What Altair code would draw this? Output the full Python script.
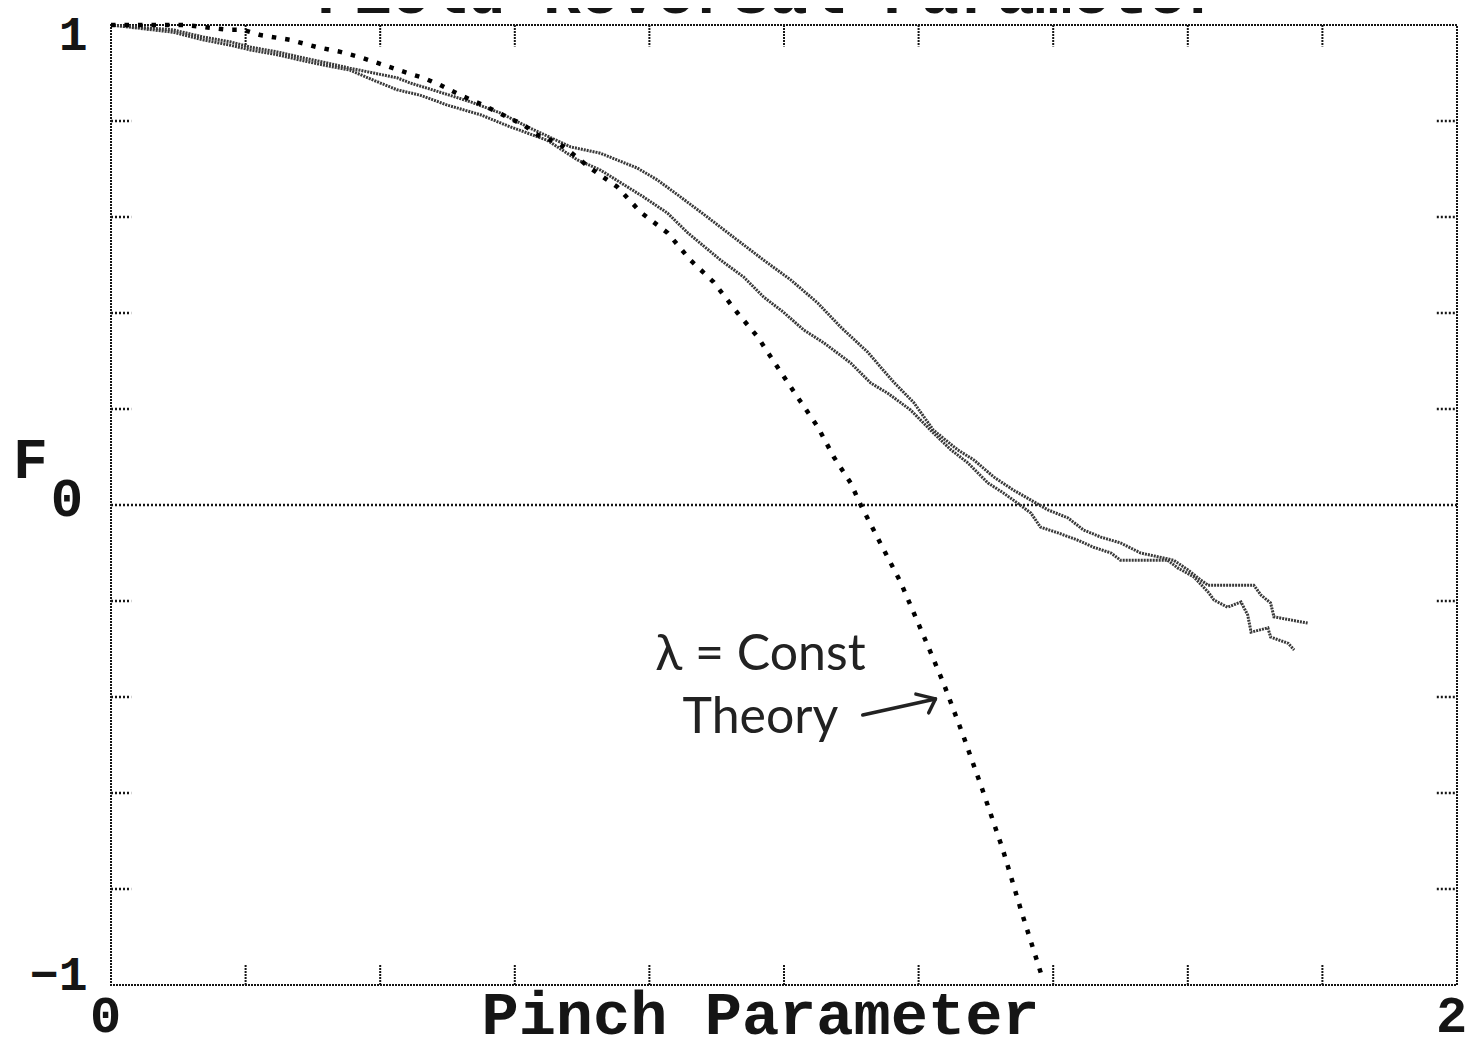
import altair as alt
import pandas as pd

# ---- data ----
theory_x = [0, 0.110, 0.173, 0.196, 0.222, 0.266, 0.306, 0.341, 0.370, 0.396,
            0.419, 0.445, 0.464, 0.489, 0.519, 0.553, 0.589, 0.613, 0.638, 0.663,
            0.683, 0.712, 0.752, 0.787, 0.827, 0.861, 0.895, 0.931, 0.961, 0.990,
            1.020, 1.050, 1.074, 1.099, 1.114, 1.143, 1.173, 1.207, 1.237, 1.267,
            1.295, 1.325, 1.353, 1.383]
theory_y = [1.0, 1.0, 0.990, 0.990, 0.979, 0.969, 0.954, 0.944, 0.933, 0.921,
            0.910, 0.898, 0.890, 0.875, 0.854, 0.833, 0.808, 0.792, 0.767, 0.756,
            0.735, 0.702, 0.663, 0.610, 0.567, 0.510, 0.465, 0.400, 0.350, 0.288,
            0.225, 0.163, 0.100, 0.046, 0.0, -0.079, -0.160, -0.271, -0.371, -0.483,
            -0.594, -0.717, -0.848, -0.981]

upper_x = [0, 0.092, 0.137, 0.177, 0.207, 0.247, 0.281, 0.321, 0.355, 0.390,
           0.425, 0.445, 0.489, 0.534, 0.578, 0.623, 0.683, 0.727, 0.782, 0.812,
           0.846, 0.886, 0.925, 0.970, 1.010, 1.050, 1.084, 1.124, 1.163, 1.193,
           1.222, 1.258, 1.282, 1.312, 1.341, 1.367, 1.392, 1.422, 1.445, 1.471,
           1.500, 1.530, 1.579, 1.600, 1.619, 1.630, 1.698, 1.709, 1.723, 1.728,
           1.778]
upper_y = [1.0, 0.990, 0.975, 0.965, 0.954, 0.944, 0.933, 0.921, 0.910, 0.900,
           0.890, 0.879, 0.860, 0.840, 0.817, 0.785, 0.746, 0.733, 0.702, 0.677,
           0.642, 0.600, 0.558, 0.510, 0.469, 0.421, 0.371, 0.319, 0.256, 0.213,
           0.156, 0.115, 0.094, 0.058, 0.031, 0.010, -0.010, -0.027, -0.052, -0.067,
           -0.079, -0.100, -0.115, -0.135, -0.156, -0.167, -0.167, -0.188, -0.204, -0.233,
           -0.246]

lower_x = [0, 0.092, 0.137, 0.177, 0.207, 0.247, 0.281, 0.321, 0.355, 0.390,
           0.425, 0.459, 0.500, 0.549, 0.593, 0.648, 0.693, 0.727, 0.767, 0.791,
           0.827, 0.857, 0.906, 0.940, 0.970, 0.999, 1.029, 1.059, 1.099, 1.129,
           1.154, 1.188, 1.222, 1.248, 1.273, 1.303, 1.326, 1.347, 1.367, 1.381,
           1.407, 1.436, 1.460, 1.486, 1.500, 1.570, 1.585, 1.609, 1.630, 1.639,
           1.659, 1.679, 1.689, 1.694, 1.719, 1.723, 1.749, 1.758]
lower_y = [1.0, 0.985, 0.969, 0.958, 0.948, 0.938, 0.927, 0.915, 0.906, 0.885,
           0.865, 0.854, 0.833, 0.813, 0.788, 0.760, 0.719, 0.698, 0.663, 0.642,
           0.608, 0.567, 0.510, 0.475, 0.433, 0.402, 0.365, 0.338, 0.296, 0.254,
           0.233, 0.198, 0.150, 0.115, 0.088, 0.046, 0.025, 0.004, -0.017, -0.046,
           -0.058, -0.073, -0.088, -0.100, -0.115, -0.115, -0.131, -0.150, -0.181, -0.198,
           -0.213, -0.202, -0.229, -0.265, -0.256, -0.275, -0.288, -0.302]

x_tick_values = [0.2, 0.4, 0.6, 0.8, 1.0, 1.2, 1.4, 1.6, 1.8]
y_tick_values = [-0.8, -0.6, -0.4, -0.2, 0.2, 0.4, 0.6, 0.8]
x_label_values = [0, 2]
y_label_values = [-1, 1]

# the "0" label of the F axis, set just below-right of the "F"
zero_label = ["0"]
zero_label_x = [-0.0654]
zero_label_y = [0.0104]

chart_title = ["Field Reversal Parameter"]
chart_title_x = [0.979]
chart_title_y = [1.024]                            # above the frame, cut by the page top

note_text = ["λ = Const", "Theory"]
note_x = [0.965, 0.965]
note_y = [-0.3125, -0.444]

arrow_x = [1.117, 1.196, 1.215]
arrow_y = [-0.4375, -0.394, -0.433]
arrow_x2 = [1.225, 1.225, 1.225]
arrow_y2 = [-0.404, -0.404, -0.404]

# ---- styling ----
MONO = "Liberation Mono"
INK = "#151515"

xs = alt.Scale(domain=[0, 2], nice=False, zero=False)
ys = alt.Scale(domain=[-1, 1], nice=False, zero=False)

xaxis = alt.Axis(values=x_label_values, format="d", title="Pinch Parameter",
                 labelFont=MONO, labelFontSize=52, labelFontWeight="bold",
                 labelColor=INK, labelPadding=46, labelOffset=-6, labelFlush=False,
                 labelBaseline="alphabetic", labelOverlap=False,
                 ticks=False, domain=False, grid=False,
                 titleFont=MONO, titleFontSize=62, titleFontWeight="bold",
                 titleColor=INK, titleX=649, titleY=48, titleAlign="center",
                 titleBaseline="alphabetic")
yaxis = alt.Axis(values=y_label_values, format="d", title="F",
                 labelFont=MONO, labelFontSize=48, labelFontWeight="bold",
                 labelColor=INK, labelPadding=24, labelFlush=True, labelFlushOffset=14,
                 labelOverlap=False, labelBound=False,
                 ticks=False, domain=False, grid=False,
                 titleFont=MONO, titleFontSize=58, titleFontWeight="bold",
                 titleColor=INK, titleAngle=0, titleX=-81, titleY=435,
                 titleAlign="center", titleBaseline="middle")


def X(f):
    return alt.X(f, type="quantitative", scale=xs, axis=xaxis)


def Y(f):
    return alt.Y(f, type="quantitative", scale=ys, axis=yaxis)


zero_df = pd.DataFrame({"x": [0], "x2": [2], "y": [0]})
zero_line = alt.Chart(zero_df).mark_rule(
    color=INK, strokeWidth=2.4, strokeDash=[2, 2]
).encode(x=X("x"), x2="x2", y=Y("y"))

bt_df = pd.DataFrame({"x": x_tick_values, "y": [-1.0] * 9, "y2": [-0.958] * 9})
bottom_ticks = alt.Chart(bt_df).mark_rule(
    color=INK, strokeWidth=2, strokeDash=[2, 1]
).encode(x=X("x"), y=Y("y"), y2="y2")

tt_df = pd.DataFrame({"x": x_tick_values, "y": [1.0] * 9, "y2": [0.955] * 9})
top_ticks = alt.Chart(tt_df).mark_rule(
    color=INK, strokeWidth=2, strokeDash=[2, 1]
).encode(x=X("x"), y=Y("y"), y2="y2")

lt_df = pd.DataFrame({"y": y_tick_values, "x": [0.0] * 8, "x2": [0.03] * 8})
left_ticks = alt.Chart(lt_df).mark_rule(
    color=INK, strokeWidth=2.5, strokeDash=[2, 2]
).encode(x=X("x"), x2="x2", y=Y("y"))

rt_df = pd.DataFrame({"y": y_tick_values, "x": [1.97] * 8, "x2": [2.0] * 8})
right_ticks = alt.Chart(rt_df).mark_rule(
    color=INK, strokeWidth=2.5, strokeDash=[2, 2]
).encode(x=X("x"), x2="x2", y=Y("y"))

th_df = pd.DataFrame({"x": theory_x, "y": theory_y, "i": range(len(theory_x))})
theory = alt.Chart(th_df).mark_line(
    color="#000", strokeWidth=4.5, strokeDash=[4.5, 9], strokeCap="butt"
).encode(x=X("x"), y=Y("y"), order="i:Q")

data_df = pd.concat([
    pd.DataFrame({"x": upper_x, "y": upper_y, "s": "upper", "i": range(len(upper_x))}),
    pd.DataFrame({"x": lower_x, "y": lower_y, "s": "lower", "i": range(len(lower_x))}),
])
data_lines = alt.Chart(data_df).mark_line(
    color="#3a3a3a", strokeWidth=3, strokeDash=[2, 1], strokeCap="butt"
).encode(x=X("x"), y=Y("y"), detail="s:N", order="i:Q")

note_df = pd.DataFrame({"x": note_x, "y": note_y, "t": note_text})
notes = alt.Chart(note_df).mark_text(
    font="Lato", fontSize=50, color="#222", align="center", baseline="middle"
).encode(x=X("x"), y=Y("y"), text="t:N")

ar_df = pd.DataFrame({"x": arrow_x, "y": arrow_y, "x2": arrow_x2, "y2": arrow_y2})
arrow = alt.Chart(ar_df).mark_rule(
    color="#222", strokeWidth=3.5, strokeCap="round"
).encode(x=X("x"), y=Y("y"), x2="x2", y2="y2")

zl_df = pd.DataFrame({"x": zero_label_x, "y": zero_label_y, "t": zero_label})
zero_lab = alt.Chart(zl_df).mark_text(
    font=MONO, fontSize=54, fontWeight="bold", color=INK,
    align="center", baseline="middle"
).encode(x=X("x"), y=Y("y"), text="t:N")

title_df = pd.DataFrame({"x": chart_title_x, "y": chart_title_y, "t": chart_title})
title_mark = alt.Chart(title_df).mark_text(
    font=MONO, fontSize=63, fontWeight="bold", color=INK,
    align="center", baseline="alphabetic"
).encode(x=X("x"), y=Y("y"), text="t:N")

chart = alt.layer(
    zero_line, bottom_ticks, top_ticks, left_ticks, right_ticks,
    data_lines, theory, arrow, notes, zero_lab, title_mark
).properties(
    width=1346, height=960,
    background="white",
    padding={"left": 103, "top": 17, "right": 19, "bottom": 50},
    autosize=alt.AutoSizeParams(type="none"),
).configure_view(
    stroke=INK, strokeWidth=2, strokeDash=[2, 1]
)

chart.save("out.html", embed_options={"renderer": "svg", "actions": False})
